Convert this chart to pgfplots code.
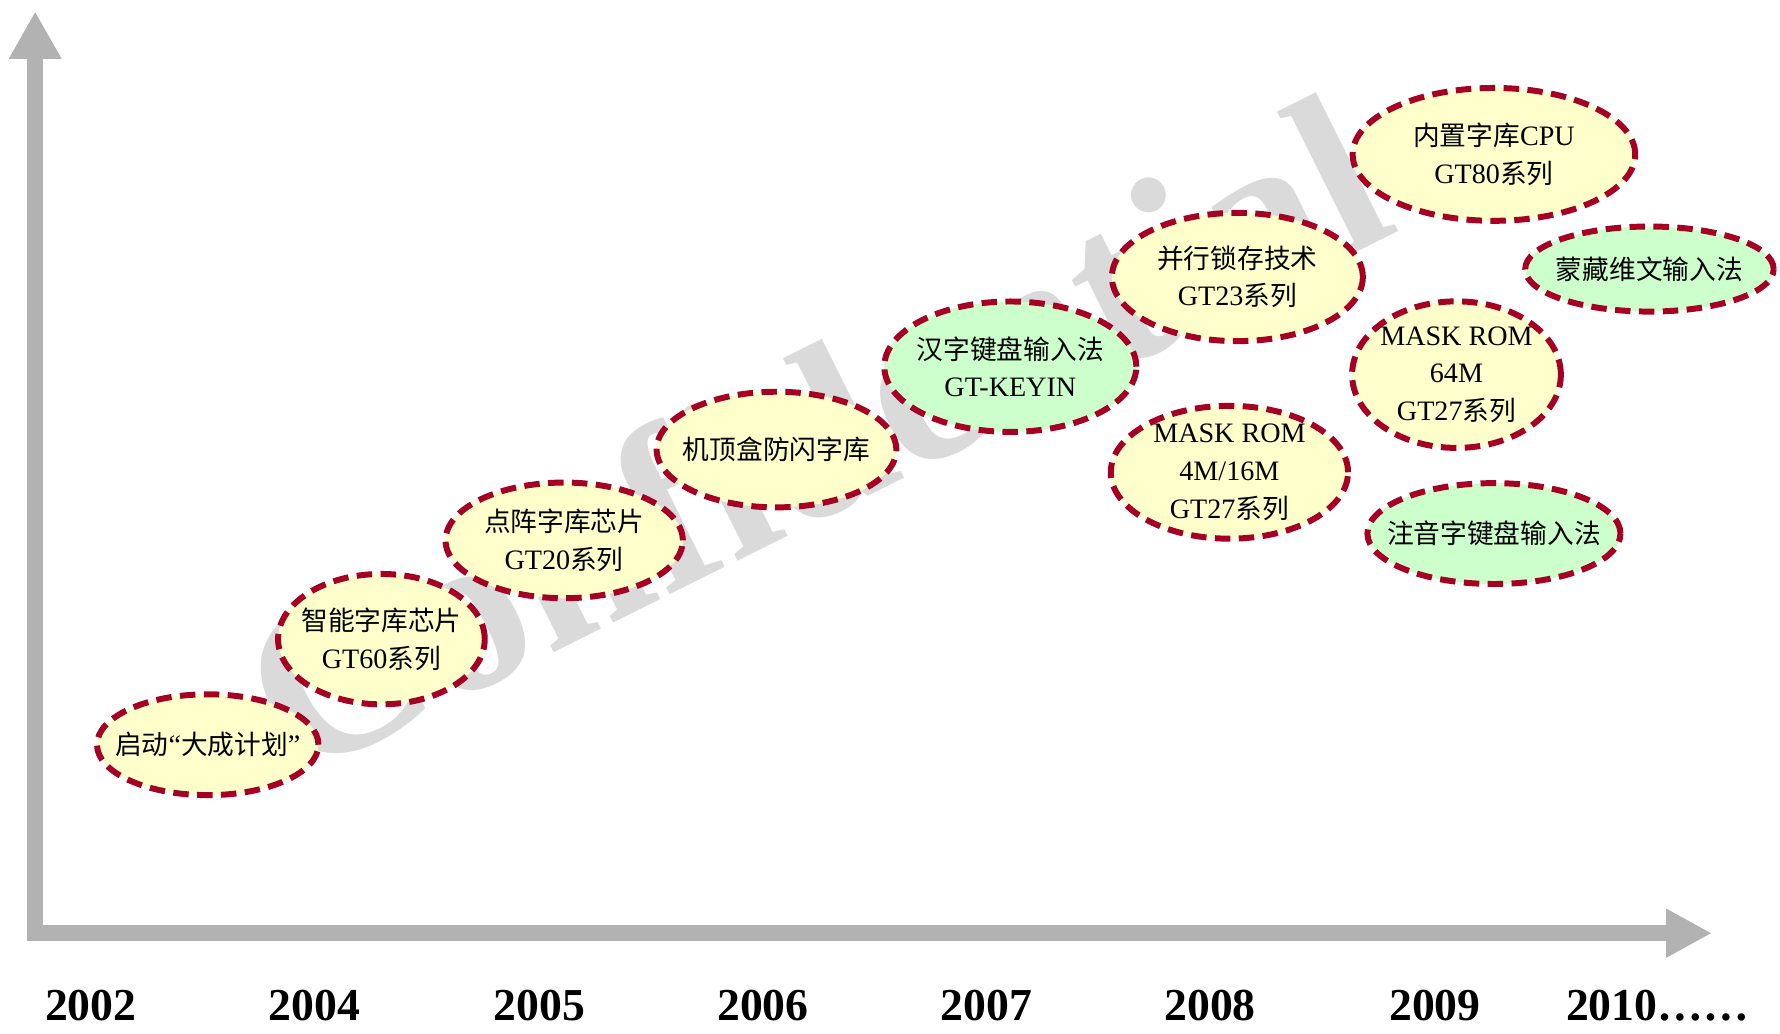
\documentclass[border=0pt]{standalone}
\usepackage{fontspec}
\setmainfont{Liberation Serif}
\newfontfamily\cjk[Scale=0.95]{Noto Sans CJK SC}
\usepackage{pgfplots}
\pgfplotsset{compat=1.18}
\usetikzlibrary{shapes.geometric,arrows.meta}
\definecolor{dred}{RGB}{165,0,36}
\definecolor{byel}{RGB}{255,255,204}
\definecolor{bgrn}{RGB}{204,255,204}
\definecolor{axgray}{RGB}{178,178,178}
\definecolor{wm}{RGB}{218,218,218}
\tikzset{btext/.style={align=center, text=black, inner sep=0pt,
  font=\fontsize{8}{10.7}\selectfont}}
\pgfplotsset{
  bubble/.style n args={4}{only marks, mark=none, nodes near coords={\mbox{}},
    every node near coord/.style={ellipse, draw=dred, line width=1.7pt,
      dash pattern=on 4.4pt off 2.4pt, fill=#1, anchor=center, inner sep=0pt,
      minimum width=#2, minimum height=#3,
      label={[btext]center:{#4}}}},
}
\begin{document}
\begin{tikzpicture}
\begin{axis}[
  scale only axis, width=17.8cm, height=10.24cm,
  xmin=0, xmax=1568, ymin=0, ymax=902,
  hide axis, clip=false, set layers,
]
\addplot[draw=none] coordinates {(0,0) (1568,902)};
% watermark
\node[on layer=axis background, rotate=26.5, text=wm, font=\bfseries\fontsize{66}{66}\selectfont]
  at (axis cs:716,520) {Confidential};
% axes arrows
\addplot[axgray, line width=4.5pt, -{Triangle[length=13pt,width=13pt]}] coordinates {(24,80) (1508,80)};
\addplot[axgray, line width=4.5pt, -{Triangle[length=13.5pt,width=14pt]}] coordinates {(31,73) (31,892)};
% years
\addplot[only marks, mark=none, point meta=explicit symbolic, nodes near coords,
  every node near coord/.style={anchor=center, text=black, font=\bfseries\fontsize{13}{13}\selectfont}]
  coordinates {(80,16)[2002] (277,16)[2004] (475,16)[2005] (672,16)[2006]
               (869,16)[2007] (1066,16)[2008] (1264,16)[2009] (1460,16)[2010……]};
% bubbles
\addplot[bubble={byel}{63pt}{28.7pt}{{\cjk 启动}“{\cjk 大成计划}”}] coordinates {(183,246)};
\addplot[bubble={byel}{58.8pt}{37.1pt}{{\cjk 智能字库芯片}\\GT60{\cjk 系列}}] coordinates {(336,339)};
\addplot[bubble={byel}{67.5pt}{32.9pt}{{\cjk 点阵字库芯片}\\GT20{\cjk 系列}}] coordinates {(497,426)};
\addplot[bubble={byel}{68.2pt}{32.9pt}{{\cjk 机顶盒防闪字库}}] coordinates {(684,506)};
\addplot[bubble={bgrn}{71.7pt}{37.1pt}{{\cjk 汉字键盘输入法}\\GT-KEYIN}] coordinates {(890,579)};
\addplot[bubble={byel}{71.4pt}{36.5pt}{{\cjk 并行锁存技术}\\GT23{\cjk 系列}}] coordinates {(1090,658)};
\addplot[bubble={byel}{67.5pt}{37.8pt}{MASK ROM\\4M/16M\\GT27{\cjk 系列}}] coordinates {(1083,486)};
\addplot[bubble={byel}{80.4pt}{37.8pt}{{\cjk 内置字库}CPU\\GT80{\cjk 系列}}] coordinates {(1316,766)};
\addplot[bubble={bgrn}{70.7pt}{24.2pt}{{\cjk 蒙藏维文输入法}}] coordinates {(1453,665)};
\addplot[bubble={byel}{59.4pt}{41.7pt}{MASK ROM\\64M\\GT27{\cjk 系列}}] coordinates {(1283,572)};
\addplot[bubble={bgrn}{72pt}{28.7pt}{{\cjk 注音字键盘输入法}}] coordinates {(1316,432)};
\end{axis}
\end{tikzpicture}
\end{document}
